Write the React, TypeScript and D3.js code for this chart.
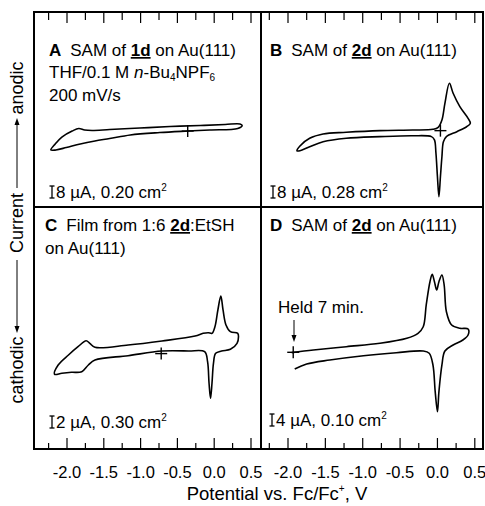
import React from 'react'
import * as d3 from 'd3'

// potential axis (V vs Fc/Fc+)
const majorTicks = [-2.0, -1.5, -1.0, -0.5, 0.0, 0.5]
const minorTicks = [-2.25, -1.75, -1.25, -0.75, -0.25, 0.25]
const tickLabels = ['-2.0', '-1.5', '-1.0', '-0.5', '0.0', '0.5']

// voltammograms: [potential V, current uA]
const curveA = [
    [-2.22, -13.3], [-2.16, -9.3], [-2.07, -4.7], [-1.93, -0.7], [-1.84, 1.0], [-1.76, 0], [-1.66, -0.3],
    [-1.42, 0.3], [-1.01, 1.3], [-0.6, 2.3], [-0.19, 3.0], [0.15, 3.7], [0.35, 4.0], [0.38, 3.0], [0.32, 1.0],
    [-0.06, 0], [-0.36, -0.7], [-0.74, -1.7], [-1.14, -3.3], [-1.42, -5.7], [-1.62, -7.3], [-1.82, -9.3],
    [-2.01, -11.7], [-2.15, -13.3],
]
const curveB = [
    [-1.88, -10.5], [-1.84, -7.3], [-1.71, -2.2], [-1.53, 0.7], [-1.22, 1.8], [-0.77, 2.9], [-0.33, 3.3],
    [-0.06, 3.8], [0.01, 5.1], [0.06, 10], [0.1, 21.1], [0.16, 34.5], [0.21, 27.8], [0.3, 18.9], [0.41, 11.1],
    [0.44, 7.8], [0.39, 5.5], [0.26, 2.2], [0.12, -1.1], [0.08, -4.5], [0.06, -14.5], [0.04, -27.8],
    [0.02, -41.1], [0.0, -27.8], [-0.02, -12.2], [-0.04, -3.3], [-0.08, -1.1], [-0.33, -0.5], [-0.77, -1.1],
    [-1.22, -2.2], [-1.53, -4.5], [-1.71, -7.8], [-1.84, -10.5],
]
const curveC = [
    [-2.17, -4.05], [-2.12, -2.5], [-1.98, -0.83], [-1.85, 0.55], [-1.74, 1.55], [-1.69, 1.12], [-1.62, 0.45],
    [-1.17, 0.83], [-0.71, 1.5], [-0.26, 2.33], [-0.15, 2.78], [-0.08, 2.88], [-0.03, 2.78], [0.01, 3.88],
    [0.05, 6.67], [0.09, 9.0], [0.12, 6.67], [0.16, 4.17], [0.22, 3.05], [0.32, 2.78], [0.33, 2.22],
    [0.31, 1.12], [0.22, 0.12], [0.1, -0.17], [0.02, -0.55], [-0.01, -2.22], [-0.03, -5.55], [-0.05, -8.05],
    [-0.07, -5.55], [-0.09, -1.95], [-0.13, -0.28], [-0.35, -0.17], [-0.71, -0.17], [-1.17, -0.95],
    [-1.62, -1.67], [-1.71, -2.5], [-1.8, -3.62], [-1.94, -3.72], [-2.07, -3.88],
]
const curveD = [
    [-1.95, -0.2], [-1.66, 0.67], [-1.22, 1.77], [-0.77, 2.9], [-0.41, 4.57], [-0.26, 6.23], [-0.19, 8.43],
    [-0.15, 15.67], [-0.1, 23.43], [-0.07, 25.9], [-0.04, 23.43], [-0.01, 20.67], [0.02, 23.43], [0.06, 25.67],
    [0.09, 22.33], [0.12, 13.43], [0.19, 9.0], [0.3, 7.9], [0.41, 7.67], [0.41, 5.67], [0.34, 4.0],
    [0.21, 2.33], [0.1, 0.33], [0.06, -4.33], [0.02, -13.23], [0.0, -19.9], [-0.03, -13.23], [-0.06, -4.33],
    [-0.11, -0.43], [-0.19, 0.33], [-0.55, -0.23], [-0.99, -1.23], [-1.44, -2.67], [-1.75, -4.0], [-1.91, -5.67],
]
// start of each scan (the "+" marks)
const starts = [[-0.36, -0.7], [0.04, 2.9], [-0.72, -0.6], [-1.93, -0.1]]
// scale bars
const barUnits = [8, 8, 2, 4]
const barAreas = ['0.20', '0.28', '0.30', '0.10']

const FONT = '"Liberation Sans", Arial, Helvetica, sans-serif'
const frame = { left: 34, right: 483, top: 12, bottom: 449, midX: 261, midY: 207 }

const arrowHead = (x, y, dir) => {
    // small filled triangle, tip at (x,y); dir = 1 points down, -1 points up
    return `M${x},${y} L${x - 2.5},${y - dir * 7} L${x + 2.5},${y - dir * 7} Z`
}

const Caption = ({ x, y, letter, pre, bold, post }) => (
    <text x={x} y={y}>
        <tspan fontWeight="bold">{letter}</tspan>
        <tspan dx={9}>{pre}</tspan>
        <tspan fontWeight="bold" textDecoration="underline">{bold}</tspan>
        <tspan>{post}</tspan>
    </text>
)

const App = () => {
    const xLeft = d3.scaleLinear().domain([-2, 0.5]).range([67, 251])
    const xRight = d3.scaleLinear().domain([-2, 0.5]).range([288, 474.8])

    const panels = [
        { data: curveA, closed: true, x: xLeft, zeroY: 130, pxPerUA: 1.5, barX: 52, barY: 198 },
        { data: curveB, closed: true, x: xRight, zeroY: 135, pxPerUA: 1.5, barX: 273, barY: 198 },
        { data: curveC, closed: true, x: xLeft, zeroY: 350, pxPerUA: 6, barX: 52, barY: 428 },
        { data: curveD, closed: false, x: xRight, zeroY: 352, pxPerUA: 3, barX: 272, barY: 426 },
    ]

    return (
        <svg width={485} height={506} style={{ position: 'absolute', left: 0, top: 0, background: '#fff' }}
            fontFamily={FONT} fontSize={17}>
            {/* frame and dividers */}
            <rect x={frame.left} y={frame.top} width={frame.right - frame.left} height={frame.bottom - frame.top}
                fill="none" stroke="#000" strokeWidth={2} />
            <line x1={frame.midX} x2={frame.midX} y1={frame.top} y2={frame.bottom} stroke="#000" strokeWidth={2} />
            <line x1={frame.left} x2={frame.right} y1={frame.midY} y2={frame.midY} stroke="#000" strokeWidth={2} />

            {/* ticks */}
            {[xLeft, xRight].map((x, ci) => (
                <g key={ci}>
                    {majorTicks.map(v => (
                        <g key={'M' + v}>
                            <line x1={x(v)} x2={x(v)} y1={frame.top} y2={frame.top + 11} stroke="#000" strokeWidth={1.2} />
                            <line x1={x(v)} x2={x(v)} y1={frame.bottom} y2={frame.bottom - 11} stroke="#000" strokeWidth={1.2} />
                        </g>
                    ))}
                    {minorTicks.map(v => (
                        <g key={'m' + v}>
                            <line x1={x(v)} x2={x(v)} y1={frame.top} y2={frame.top + 8} stroke="#000" strokeWidth={1.2} />
                            <line x1={x(v)} x2={x(v)} y1={frame.bottom} y2={frame.bottom - 6} stroke="#000" strokeWidth={1.2} />
                        </g>
                    ))}
                    {majorTicks.map((v, i) => (
                        <text key={'l' + v} x={x(v)} y={478} textAnchor="middle" fontSize={16.5}>{tickLabels[i]}</text>
                    ))}
                </g>
            ))}

            {/* curves, start marks, scale bars */}
            {panels.map((p, i) => {
                const y = d3.scaleLinear().domain([0, 1]).range([p.zeroY, p.zeroY - p.pxPerUA])
                const line = d3.line()
                    .x(d => p.x(d[0]))
                    .y(d => y(d[1]))
                    .curve(p.closed ? d3.curveCatmullRomClosed.alpha(0.5) : d3.curveCatmullRom.alpha(0.5))
                const cx = p.x(starts[i][0])
                const cy = y(starts[i][1])
                const barH = y(0) - y(barUnits[i])
                return (
                    <g key={i}>
                        <path d={line(p.data)} fill="none" stroke="#000" strokeWidth={1.6} strokeLinejoin="round" />
                        <line x1={cx - 6} x2={cx + 6} y1={cy} y2={cy} stroke="#000" strokeWidth={1.4} />
                        <line x1={cx} x2={cx} y1={cy - 6} y2={cy + 6} stroke="#000" strokeWidth={1.4} />
                        <g stroke="#000" strokeWidth={1.3}>
                            <line x1={p.barX} x2={p.barX} y1={p.barY} y2={p.barY - barH} />
                            <line x1={p.barX - 2.5} x2={p.barX + 2.5} y1={p.barY} y2={p.barY} />
                            <line x1={p.barX - 2.5} x2={p.barX + 2.5} y1={p.barY - barH} y2={p.barY - barH} />
                        </g>
                        <text x={p.barX + 4} y={p.barY}>
                            {barUnits[i]} µA, {barAreas[i]} cm<tspan fontSize={10} dy={-7}>2</tspan>
                        </text>
                    </g>
                )
            })}

            {/* panel captions */}
            <Caption x={49} y={56} letter="A" pre="SAM of " bold="1d" post=" on Au(111)" />
            <text x={49} y={78}>
                THF/0.1 M <tspan fontStyle="italic">n</tspan>-Bu<tspan fontSize={10} dy={3}>4</tspan>
                <tspan dy={-3}>NPF</tspan><tspan fontSize={10} dy={3}>6</tspan>
            </text>
            <text x={49} y={101}>200 mV/s</text>

            <Caption x={270} y={56} letter="B" pre="SAM of " bold="2d" post=" on Au(111)" />
            <Caption x={45} y={231} letter="C" pre="Film from 1:6 " bold="2d" post=":EtSH" />
            <text x={45} y={254}>on Au(111)</text>
            <Caption x={270} y={231} letter="D" pre="SAM of " bold="2d" post=" on Au(111)" />

            <text x={278} y={313}>Held 7 min.</text>
            <line x1={294} x2={294} y1={320} y2={336} stroke="#000" strokeWidth={1} />
            <path d={arrowHead(294, 342, 1)} fill="#000" />

            {/* y axis label */}
            <g fontSize={18}>
                <text transform="translate(23,88) rotate(-90)" textAnchor="middle">anodic</text>
                <line x1={17} x2={17} y1={188} y2={124} stroke="#000" strokeWidth={1} />
                <path d={arrowHead(17, 118, -1)} fill="#000" />
                <text transform="translate(23,223) rotate(-90)" textAnchor="middle">Current</text>
                <line x1={17} x2={17} y1={260} y2={327} stroke="#000" strokeWidth={1} />
                <path d={arrowHead(17, 333, 1)} fill="#000" />
                <text transform="translate(23,370) rotate(-90)" textAnchor="middle">cathodic</text>
            </g>

            {/* x axis label */}
            <text x={277} y={500} textAnchor="middle" fontSize={18.5}>
                Potential vs. Fc/Fc<tspan fontSize={10} dy={-8}>+</tspan><tspan dy={8}>, V</tspan>
            </text>
        </svg>
    )
}

export default App
